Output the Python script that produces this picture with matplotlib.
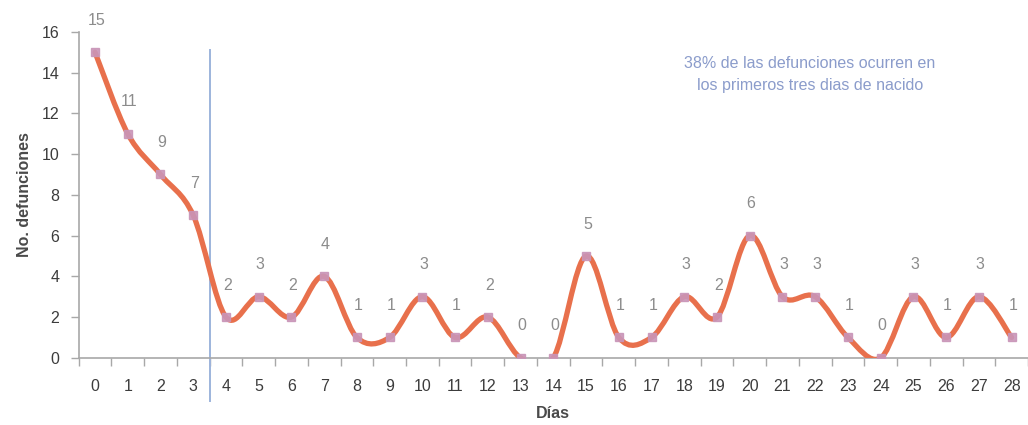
import numpy as np
import matplotlib
matplotlib.use('Agg')
import matplotlib.pyplot as plt
from matplotlib.path import Path
from matplotlib.patches import PathPatch
from matplotlib.ticker import MultipleLocator, FixedLocator

plt.rcParams['font.family'] = ['Liberation Sans', 'DejaVu Sans']

# ─── DATA ─────────────────────────────────────────────────────────────────────
dias = list(range(29))
defunciones = [15, 11, 9, 7, 2, 3, 2, 4, 1, 1, 3, 1, 2, 0, 0, 5,
               1, 1, 3, 2, 6, 3, 3, 1, 0, 3, 1, 3, 1]
corte = 3.5
nota = '38% de las defunciones ocurren en\nlos primeros tres dias de nacido'

LINE_COLOR = '#e8704c'
MARK_COLOR = '#c995b8'
TEXT_GREY = '#8c8c8c'
AXIS_GREY = '#a8a8a8'

fig = plt.figure(figsize=(10.28, 4.25), dpi=100)
ax = fig.add_axes([0.0765, 0.158, 0.9235, 0.767])

# smooth line through the points (Catmull-Rom as cubic Bezier segments)
x = np.array(dias, dtype=float)
y = np.array(defunciones, dtype=float)
px = np.concatenate([[x[0]], x, [x[-1]]])
py = np.concatenate([[y[0]], y, [y[-1]]])
verts = [(x[0], y[0])]
codes = [Path.MOVETO]
for i in range(1, len(px) - 2):
    c1 = (px[i] + (px[i + 1] - px[i - 1]) / 6, py[i] + (py[i + 1] - py[i - 1]) / 6)
    c2 = (px[i + 1] - (px[i + 2] - px[i]) / 6, py[i + 1] - (py[i + 2] - py[i]) / 6)
    verts += [c1, c2, (px[i + 1], py[i + 1])]
    codes += [Path.CURVE4] * 3
ax.add_patch(PathPatch(Path(verts, codes), facecolor='none', edgecolor=LINE_COLOR,
                       linewidth=3.8, capstyle='round', joinstyle='round', zorder=3))
ax.plot(x, y, linestyle='none', marker='s', markersize=5.5,
        markerfacecolor=MARK_COLOR, markeredgecolor=MARK_COLOR, alpha=0.9, zorder=4)

for xi, yi in zip(dias, defunciones):
    ax.annotate(str(yi), (xi, yi), xytext=(1, 23), textcoords='offset points',
                ha='center', va='center', fontsize=11.5, color=TEXT_GREY)

ax.plot([corte, corte], [15.1, -2.1], color='#9db4dc', linewidth=1.4,
        clip_on=False, zorder=2)

ax.text(0.77, 0.87, nota, transform=ax.transAxes, ha='center', va='center',
        fontsize=11.5, color='#8b9ccb', linespacing=1.6)

ax.set_xlim(-0.5, 28.5)
ax.set_ylim(0, 16)
ax.yaxis.set_major_locator(MultipleLocator(2))
ax.set_xticks(dias)
ax.set_xticklabels([str(d) for d in dias])
ax.xaxis.set_minor_locator(FixedLocator(np.arange(-0.5, 28.6, 1)))
ax.tick_params(axis='x', which='major', length=0, pad=15, labelsize=11.5, labelcolor='#3c3c3c')
ax.tick_params(axis='x', which='minor', length=6, color=AXIS_GREY, width=1)
ax.tick_params(axis='y', which='major', length=6, color=AXIS_GREY, width=1,
               labelsize=11.5, labelcolor='#3c3c3c', pad=8)

for side in ['top', 'right']:
    ax.spines[side].set_visible(False)
for side in ['left', 'bottom']:
    ax.spines[side].set_color(AXIS_GREY)
    ax.spines[side].set_linewidth(1.2)

ax.set_xlabel('Días', fontsize=11.5, fontweight='bold', color='#4a4a4a', labelpad=9)
ax.set_ylabel('No. defunciones', fontsize=11.5, fontweight='bold', color='#4a4a4a', labelpad=7)

fig.savefig('out.png', dpi=100)
